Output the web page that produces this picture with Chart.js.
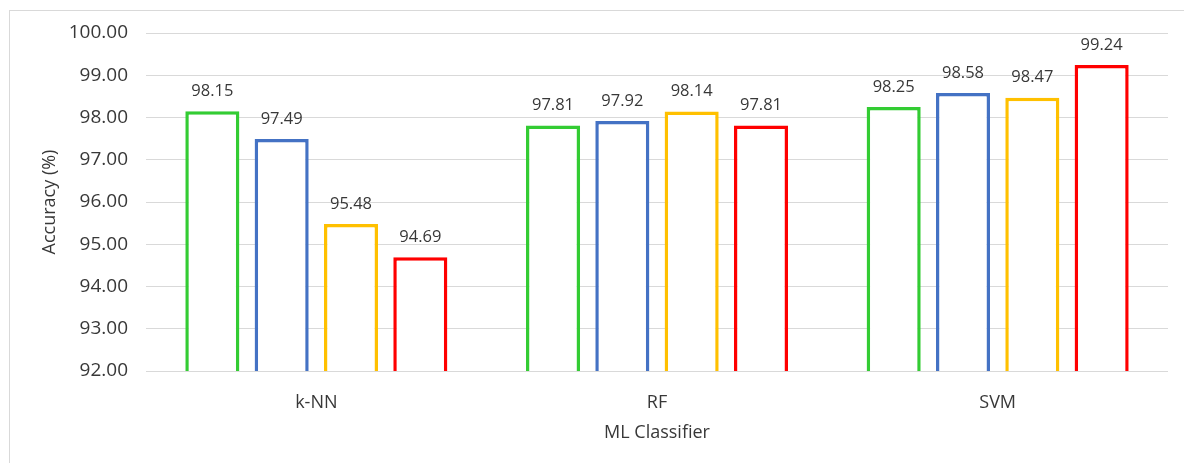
<!DOCTYPE html>
<html>
<head>
<meta charset="utf-8">
<script src="https://cdn.jsdelivr.net/npm/chart.js@4/dist/chart.umd.min.js"></script>
<style>
  html, body { margin: 0; padding: 0; background: #ffffff; overflow: hidden; }
  #frame {
    position: absolute; left: 9px; top: 10px; width: 1200px; height: 500px;
    border: 1px solid #d9d9d9; box-sizing: border-box;
  }
  #wrap { position: absolute; left: 0; top: 0; width: 1184px; height: 463px; }
</style>
</head>
<body>
<div id="frame"></div>
<div id="wrap"><canvas id="chart" width="1184" height="463"></canvas></div>
<script>
// Classifiers on the x axis
const categories = ['k-NN', 'RF', 'SVM'];

// Accuracy (%) of each configuration per classifier
const seriesGreen  = [98.15, 97.81, 98.25];
const seriesBlue   = [97.49, 97.92, 98.58];
const seriesYellow = [95.48, 98.14, 98.47];
const seriesRed    = [94.69, 97.81, 99.24];

// Y axis range and step
const yMin = 92;
const yMax = 100;
const yStep = 1;

const FONT = "'Open Sans', 'Liberation Sans', sans-serif";
const TEXT = '#383838';

function outlinedBar(label, data, color) {
  return {
    label: label,
    data: data,
    backgroundColor: '#ffffff',
    borderColor: color,
    borderWidth: 3.5,
    borderSkipped: false,
    barPercentage: 0.78,
    categoryPercentage: 0.814
  };
}

// Writes each bar's value above it
const valueLabels = {
  id: 'valueLabels',
  afterDatasetsDraw(chart) {
    const ctx = chart.ctx;
    ctx.save();
    ctx.font = '16.5px ' + FONT;
    ctx.fillStyle = TEXT;
    ctx.textAlign = 'center';
    ctx.textBaseline = 'middle';
    chart.data.datasets.forEach((ds, i) => {
      chart.getDatasetMeta(i).data.forEach((bar, j) => {
        ctx.fillText(ds.data[j].toFixed(2), bar.x, bar.y - 20);
      });
    });
    ctx.restore();
  }
};

new Chart(document.getElementById('chart'), {
  type: 'bar',
  data: {
    labels: categories,
    datasets: [
      outlinedBar('Config 1', seriesGreen, '#33cc33'),
      outlinedBar('Config 2', seriesBlue, '#4472c4'),
      outlinedBar('Config 3', seriesYellow, '#ffc000'),
      outlinedBar('Config 4', seriesRed, '#ff0000')
    ]
  },
  options: {
    responsive: false,
    animation: false,
    layout: { padding: { left: 0, right: 16, top: 33, bottom: 0 } },
    plugins: {
      legend: { display: false },
      tooltip: { enabled: false }
    },
    scales: {
      x: {
        grid: { display: false, drawTicks: false },
        border: { display: false },
        ticks: { color: TEXT, font: { family: FONT, size: 18 }, padding: 21 },
        title: {
          display: true, text: 'ML Classifier', color: TEXT,
          font: { family: FONT, size: 18 }, padding: { top: 0, bottom: 19 }
        },
        afterFit(scale) { scale.height = 92; }
      },
      y: {
        min: yMin, max: yMax,
        grid: { color: '#d9d9d9', lineWidth: 1, drawTicks: false },
        border: { display: false },
        ticks: {
          stepSize: yStep, color: TEXT, padding: 18,
          font: { family: FONT, size: 19 },
          callback: v => Number(v).toFixed(2)
        },
        title: {
          display: true, text: 'Accuracy (%)', color: TEXT,
          font: { family: FONT, size: 18 }, padding: { top: 39, bottom: 0 }
        },
        afterFit(scale) { scale.width = 146; }
      }
    }
  },
  plugins: [valueLabels]
});
</script>
</body>
</html>
